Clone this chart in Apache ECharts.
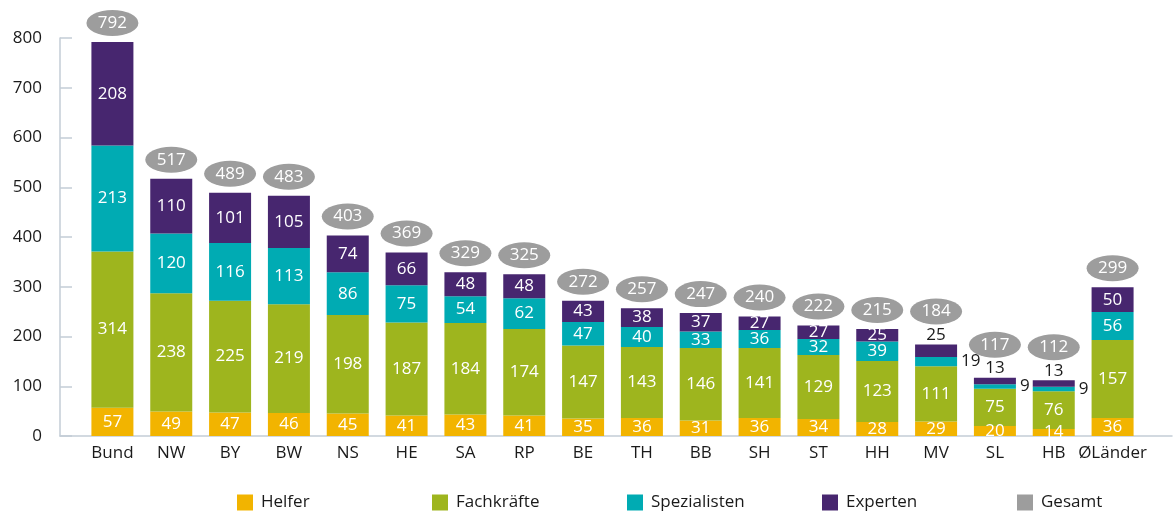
<!DOCTYPE html>
<html><head><meta charset="utf-8">
<script src="https://cdn.jsdelivr.net/npm/echarts@6/dist/echarts.min.js"></script>
<style>html,body{margin:0;padding:0;background:#fff}#c{width:1173px;height:512px}</style>
</head><body><div id="c"></div>
<script>
const categories = ['Bund','NW','BY','BW','NS','HE','SA','RP','BE','TH','BB','SH','ST','HH','MV','SL','HB','ØLänder'];
const helfer       = [57,49,47,46,45,41,43,41,35,36,31,36,34,28,29,20,14,36];
const fachkraefte  = [314,238,225,219,198,187,184,174,147,143,146,141,129,123,111,75,76,157];
const spezialisten = [213,120,116,113,86,75,54,62,47,40,33,36,32,39,19,9,9,56];
const experten     = [208,110,101,105,74,66,48,48,43,38,37,27,27,25,25,13,13,50];
const gesamt       = [792,517,489,483,403,369,329,325,272,257,247,240,222,215,184,117,112,299];
const yTicks = [0,100,200,300,400,500,600,700,800];
const legendNames = ['Helfer','Fachkräfte','Spezialisten','Experten','Gesamt'];
const outsideLabelCats = ['MV','SL','HB'];

const FONT = 'Open Sans';
const TXT = '#1a1a1a';
const AXIS = '#c3cdd6';
const colors = {Helfer:'#f2b400', 'Fachkräfte':'#9eb51e', Spezialisten:'#00abb3', Experten:'#47266f', Gesamt:'#9d9d9d'};

function barSeries(name, values, outsidePos){
  return {
    name, type:'bar', stack:'total', xAxisIndex:1, yAxisIndex:1, barWidth:42,
    itemStyle:{color:colors[name]},
    label:{show:true, position:'inside', color:'#fff', fontSize:17, fontFamily:FONT},
    data: values.map((v,i)=>{
      if (outsidePos && outsideLabelCats.includes(categories[i])) {
        return {value:v, label:{position:outsidePos, color:TXT, distance: outsidePos==='right'?4:1}};
      }
      return v;
    })
  };
}

const chart = echarts.init(document.getElementById('c'), null, {renderer:'canvas'});
chart.setOption({
  animation:false,
  textStyle:{fontFamily:FONT},
  grid:[
    {left:60, right:1, top:38, bottom:76},
    {left:83, right:31, top:38, bottom:76}
  ],
  xAxis:[
    {gridIndex:0, type:'value', min:0, max:1, axisLine:{show:true, lineStyle:{color:AXIS, width:1.5}}, axisTick:{show:false}, axisLabel:{show:false}, splitLine:{show:false}},
    {gridIndex:1, type:'category', data:categories, axisLine:{show:false}, axisTick:{show:false},
     axisLabel:{color:TXT, fontSize:17, fontFamily:FONT, margin:9, interval:0}}
  ],
  yAxis:[
    {gridIndex:0, type:'value', min:yTicks[0], max:yTicks[yTicks.length-1], interval:yTicks[1]-yTicks[0],
     axisLine:{show:true, lineStyle:{color:AXIS, width:1.5}},
     axisTick:{show:true, inside:true, length:12, lineStyle:{color:AXIS, width:1.5}},
     axisLabel:{color:TXT, fontSize:17, fontFamily:FONT, margin:18},
     splitLine:{show:false}},
    {gridIndex:1, type:'value', min:yTicks[0], max:yTicks[yTicks.length-1], show:false, splitLine:{show:false}}
  ],
  legend: legendNames.map((n,k)=>({
    left:237 + k*195, top:494, padding:0, itemWidth:16, itemHeight:16, icon:'rect',
    data:[n],
    textStyle:{color:TXT, fontSize:17, fontFamily:FONT, padding:[0,0,0,3]}
  })),
  series:[
    barSeries('Helfer', helfer),
    barSeries('Fachkräfte', fachkraefte),
    barSeries('Spezialisten', spezialisten, 'right'),
    barSeries('Experten', experten, 'top'),
    {
      name:'Gesamt', type:'scatter', xAxisIndex:1, yAxisIndex:1, z:5,
      symbol:'path://M0,10 A10,10 0 1,0 20,10 A10,10 0 1,0 0,10 Z',
      symbolSize:[52,26],
      itemStyle:{color:colors.Gesamt, opacity:1},
      label:{show:true, position:'inside', color:'#fff', fontSize:17, fontFamily:FONT},
      data: gesamt.map((v,i)=>({value:v, symbolOffset:[0, outsideLabelCats.includes(categories[i]) ? -33 : -19]}))
    }
  ]
});
</script></body></html>
